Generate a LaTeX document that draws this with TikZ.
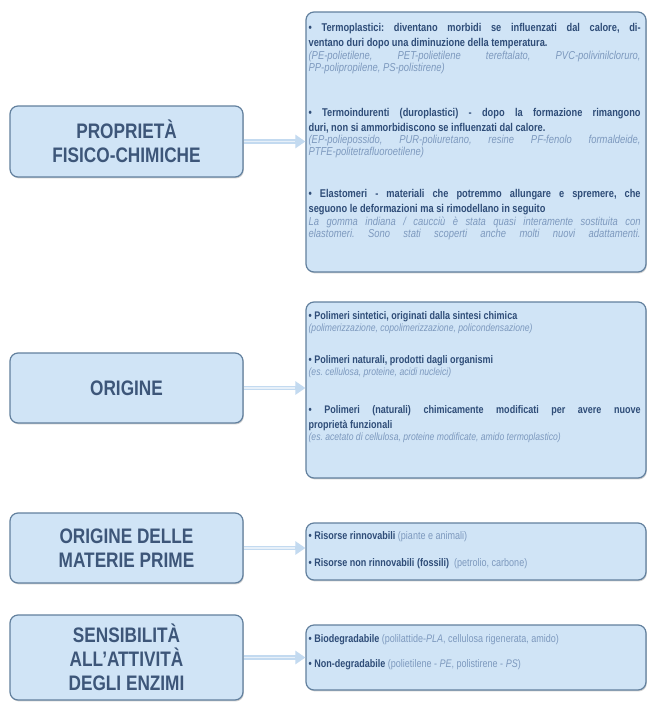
\documentclass[tikz,border=0pt]{standalone}
\usepackage{fontspec}
\setmainfont[FakeStretch=0.82]{Liberation Sans}
\usetikzlibrary{arrows.meta,shadows}
\definecolor{boxfill}{HTML}{D0E4F6}
\definecolor{boxline}{HTML}{62809E}
\definecolor{headtxt}{HTML}{3D5679}
\definecolor{bodytxt}{HTML}{2F4D78}
\definecolor{subtxt}{HTML}{7D99BE}
\definecolor{arrowc}{HTML}{C3DAF0}
\newcommand{\subf}{\fontsize{10.5}{12.3}\selectfont\itshape\mdseries\color{subtxt}}
\newcommand{\subg}{\fontsize{11.5}{12.3}\selectfont\itshape\mdseries\color{subtxt}}
\newcommand{\lite}[1]{{\mdseries\color{subtxt}#1}}
\frenchspacing
\tikzset{
  boxbase/.style={draw=boxline, line width=1.2pt, fill=boxfill, rounded corners=8pt,
    drop shadow={shadow xshift=0.8pt, shadow yshift=-1.4pt, opacity=0.35, fill=gray}},
  lbox/.style={boxbase, minimum width=233pt, align=center, text=headtxt,
    font=\fontsize{21}{24}\selectfont\bfseries, inner sep=2pt},
  rbox/.style={boxbase, minimum width=340pt, inner sep=0pt},
  txt/.style={inner sep=0pt, anchor=north west, text width=332pt, align=justify,
    text=bodytxt, font=\fontsize{11}{15}\selectfont\bfseries\frenchspacing},
  shaft/.style={draw=arrowc, line width=4.5pt, -{Triangle[length=10pt,width=13pt,fill=arrowc]}},
  shaftin/.style={draw=white!60!arrowc, line width=1.8pt, shorten >=10pt}
}
\begin{document}
\begin{tikzpicture}[x=1pt,y=-1pt]
\useasboundingbox[fill=white] (0,0) rectangle (649,702);

% left boxes
\node[lbox, minimum height=71pt] (l1) at (126.5,141.5) {PROPRIETÀ\\FISICO-CHIMICHE};
\node[lbox, minimum height=70pt] (l2) at (126.5,388) {ORIGINE};
\node[lbox, minimum height=70pt] (l3) at (126.5,548) {ORIGINE DELLE\\MATERIE PRIME};
\node[lbox, minimum height=85pt] (l4) at (126.5,657.5) {SENSIBILITÀ\\ALL’ATTIVITÀ\\DEGLI ENZIMI};

% right boxes
\node[rbox, minimum height=260pt] (r1) at (476,142) {};
\node[rbox, minimum height=176pt] (r2) at (476,390) {};
\node[rbox, minimum height=57pt] (r3) at (476,551.5) {};
\node[rbox, minimum height=65pt] (r4) at (476,657.5) {};

% texts
\node[txt, font=\fontsize{11.3}{15}\selectfont\bfseries\frenchspacing] (t1) at ([xshift=3pt,yshift=-12pt]r1.north west) {%
• Termoplastici: diventano morbidi se influenzati dal calore, di-\linebreak ventano duri dopo una diminuzione della temperatura.\par
{\subg (PE-polietilene, PET-polietilene tereftalato, PVC-polivinilcloruro,\linebreak PP-polipropilene, PS-polistirene)\par}
\vspace{30pt}
• Termoindurenti (duroplastici) - dopo la formazione rimangono\linebreak duri, non si ammorbidiscono se influenzati dal calore.\par
{\subg (EP-poliepossido, PUR-poliuretano, resine PF-fenolo formaldeide,\linebreak PTFE-politetrafluoroetilene)\par}
\vspace{27pt}
• Elastomeri - materiali che potremmo allungare e spremere, che\linebreak seguono le deformazioni ma si rimodellano in seguito\par
{\subg\parfillskip=0pt La gomma indiana / caucciù è stata quasi interamente sostituita con\linebreak elastomeri. Sono stati scoperti anche molti nuovi adattamenti.\par}
};

\node[txt] (t2) at ([xshift=3pt,yshift=-9.5pt]r2.north west) {%
• Polimeri sintetici, originati dalla sintesi chimica\par
{\subf (polimerizzazione, copolimerizzazione, policondensazione)\par}
\vspace{17pt}
• Polimeri naturali, prodotti dagli organismi\par
{\subf (es. cellulosa, proteine, acidi nucleici)\par}
\vspace{23pt}
• Polimeri (naturali) chimicamente modificati per avere nuove\linebreak proprietà funzionali\par
{\subf (es. acetato di cellulosa, proteine modificate, amido termoplastico)\par}
};

\node[txt] (t3) at ([xshift=3pt,yshift=-8.5pt]r3.north west) {%
• Risorse rinnovabili \lite{(piante e animali)}\par
\vspace{12pt}
• Risorse non rinnovabili (fossili) \ \lite{(petrolio, carbone)}\par
};

\node[txt] (t4) at ([xshift=3pt,yshift=-9.5pt]r4.north west) {%
• Biodegradabile \lite{(polilattide-\textit{PLA}, cellulosa rigenerata, amido)}\par
\vspace{10pt}
• Non-degradabile \lite{(polietilene - \textit{PE}, polistirene - \textit{PS})}\par
};

% arrows
\draw[shaft] (l1.east) -- (l1.east -| r1.west);
\draw[shaftin] (l1.east) -- (l1.east -| r1.west);
\draw[shaft] (l2.east) -- (l2.east -| r2.west);
\draw[shaftin] (l2.east) -- (l2.east -| r2.west);
\draw[shaft] (l3.east) -- (l3.east -| r3.west);
\draw[shaftin] (l3.east) -- (l3.east -| r3.west);
\draw[shaft] (l4.east) -- (l4.east -| r4.west);
\draw[shaftin] (l4.east) -- (l4.east -| r4.west);
\end{tikzpicture}
\end{document}
